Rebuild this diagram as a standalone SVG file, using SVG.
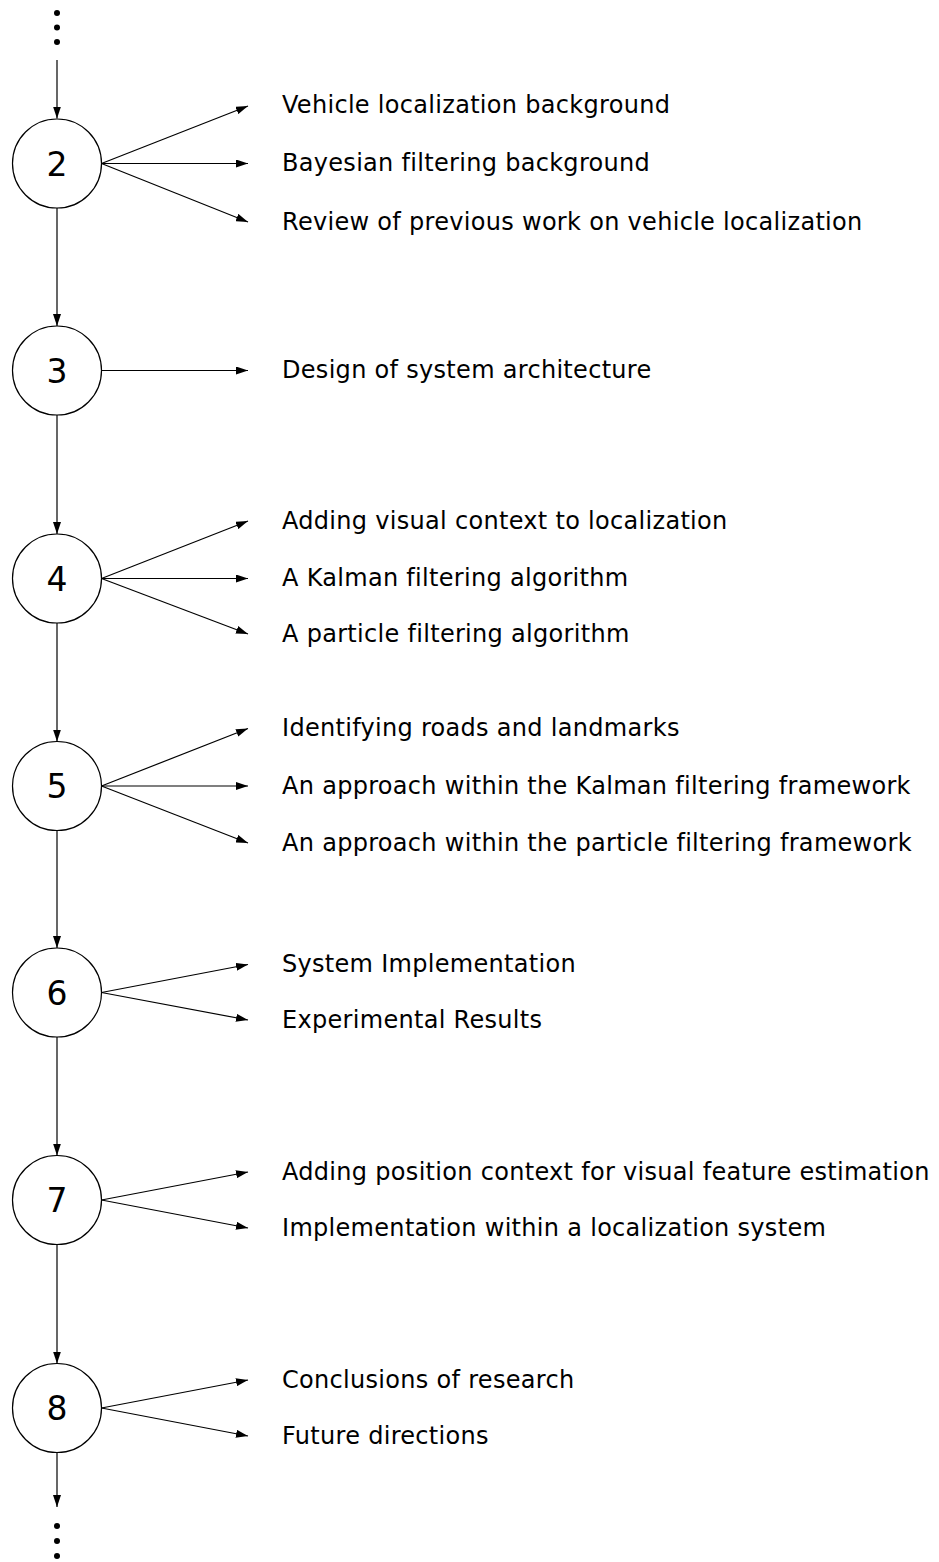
<svg xmlns="http://www.w3.org/2000/svg" width="939" height="1562" viewBox="0 0 939 1562">
<style>
.n circle{fill:#fff;stroke:#000;stroke-width:1.2}
.num{font-family:"DejaVu Sans",Verdana,sans-serif;font-size:33px;text-anchor:middle;fill:#000}
.lbl{font-family:"DejaVu Sans",Verdana,sans-serif;font-size:24px;letter-spacing:0.3px;fill:#000}
.c line{stroke:#000;stroke-width:1.2;marker-end:url(#ah)}
.dot{fill:#000}
</style>
<defs>
<marker id="ah" markerWidth="12" markerHeight="8" refX="12" refY="4" orient="auto" markerUnits="userSpaceOnUse">
<path d="M0,0 L12,4 L0,8 Z" fill="#000"/>
</marker>
</defs>
<g id="dots-top">
<circle class="dot" cx="57" cy="13" r="3"/><circle class="dot" cx="57" cy="27.5" r="3"/><circle class="dot" cx="57" cy="42" r="3"/>
</g>
<g id="dots-bottom">
<circle class="dot" cx="57" cy="1526" r="3"/><circle class="dot" cx="57" cy="1541" r="3"/><circle class="dot" cx="57" cy="1556" r="3"/>
</g>
<g class="c" id="connectors">
<line x1="57" y1="60" x2="57" y2="118.5"/>
<line x1="57" y1="208" x2="57" y2="326"/>
<line x1="57" y1="415" x2="57" y2="534"/>
<line x1="57" y1="623" x2="57" y2="741.5"/>
<line x1="57" y1="830.5" x2="57" y2="948"/>
<line x1="57" y1="1037" x2="57" y2="1155.5"/>
<line x1="57" y1="1244.5" x2="57" y2="1363.5"/>
<line x1="57" y1="1452.5" x2="57" y2="1507"/>
<line x1="101.5" y1="163.5" x2="248" y2="106"/>
<line x1="101.5" y1="163.5" x2="248" y2="163.5"/>
<line x1="101.5" y1="163.5" x2="248" y2="222"/>
<line x1="101.5" y1="370.5" x2="248" y2="370.5"/>
<line x1="101.5" y1="578.5" x2="248" y2="521"/>
<line x1="101.5" y1="578.5" x2="248" y2="578.5"/>
<line x1="101.5" y1="578.5" x2="248" y2="634"/>
<line x1="101.5" y1="786" x2="248" y2="728.5"/>
<line x1="101.5" y1="786" x2="248" y2="786"/>
<line x1="101.5" y1="786" x2="248" y2="843"/>
<line x1="101.5" y1="992.5" x2="248" y2="964.5"/>
<line x1="101.5" y1="992.5" x2="248" y2="1020"/>
<line x1="101.5" y1="1200" x2="248" y2="1172"/>
<line x1="101.5" y1="1200" x2="248" y2="1228"/>
<line x1="101.5" y1="1408" x2="248" y2="1380"/>
<line x1="101.5" y1="1408" x2="248" y2="1436"/>
</g>
<g class="n" id="node2"><circle cx="57" cy="163.5" r="44.5"/><text class="num" x="57" y="175.5">2</text></g>
<g class="n" id="node3"><circle cx="57" cy="370.5" r="44.5"/><text class="num" x="57" y="382.5">3</text></g>
<g class="n" id="node4"><circle cx="57" cy="578.5" r="44.5"/><text class="num" x="57" y="590.5">4</text></g>
<g class="n" id="node5"><circle cx="57" cy="786" r="44.5"/><text class="num" x="57" y="798">5</text></g>
<g class="n" id="node6"><circle cx="57" cy="992.5" r="44.5"/><text class="num" x="57" y="1004.5">6</text></g>
<g class="n" id="node7"><circle cx="57" cy="1200" r="44.5"/><text class="num" x="57" y="1212">7</text></g>
<g class="n" id="node8"><circle cx="57" cy="1408" r="44.5"/><text class="num" x="57" y="1420">8</text></g>
<g id="labels">
<text class="lbl" x="282" y="112.5">Vehicle localization background</text>
<text class="lbl" x="282" y="171">Bayesian filtering background</text>
<text class="lbl" x="282" y="229.5">Review of previous work on vehicle localization</text>
<text class="lbl" x="282" y="378">Design of system architecture</text>
<text class="lbl" x="282" y="528.5">Adding visual context to localization</text>
<text class="lbl" x="282" y="586">A Kalman filtering algorithm</text>
<text class="lbl" x="282" y="641.5">A particle filtering algorithm</text>
<text class="lbl" x="282" y="736">Identifying roads and landmarks</text>
<text class="lbl" x="282" y="793.5">An approach within the Kalman filtering framework</text>
<text class="lbl" x="282" y="850.5">An approach within the particle filtering framework</text>
<text class="lbl" x="282" y="972">System Implementation</text>
<text class="lbl" x="282" y="1027.5">Experimental Results</text>
<text class="lbl" x="282" y="1179.5">Adding position context for visual feature estimation</text>
<text class="lbl" x="282" y="1235.5">Implementation within a localization system</text>
<text class="lbl" x="282" y="1387.5">Conclusions of research</text>
<text class="lbl" x="282" y="1443.5">Future directions</text>
</g>
</svg>
